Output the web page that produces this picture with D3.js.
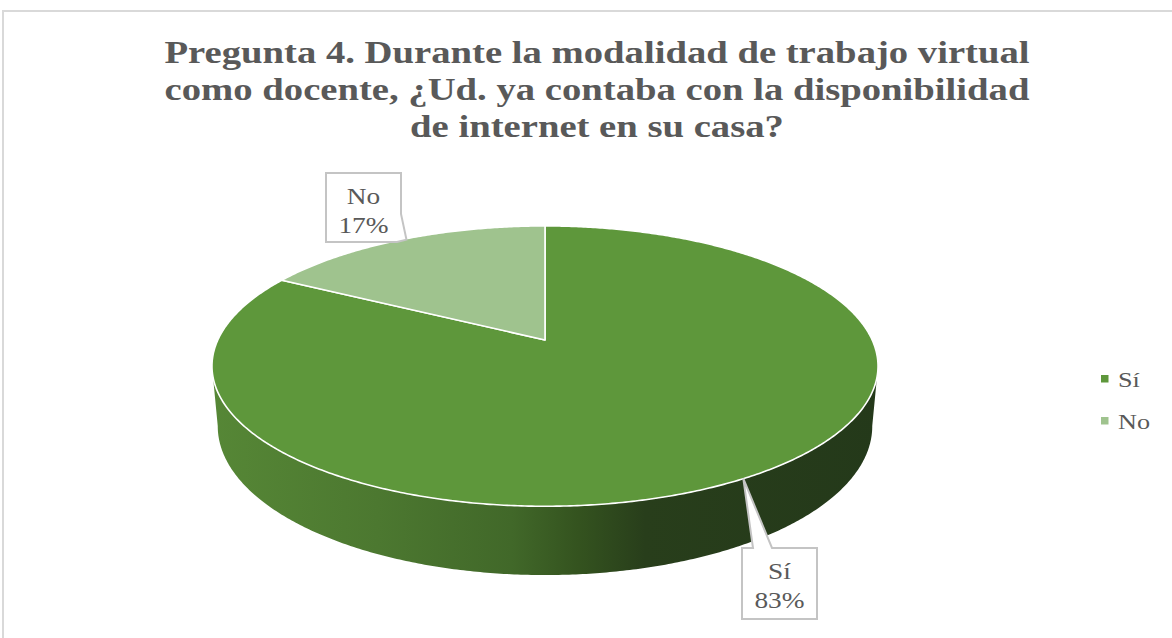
<!DOCTYPE html>
<html lang="es">
<head>
  <meta charset="UTF-8">
  <title>Pregunta 4</title>
  <script src="https://d3js.org/d3.v7.min.js"></script>
  <style>
    body { margin: 0; background: #fff; }
    svg { display: block; }
  </style>
</head>
<body>
<div class="canvas"></div>
<script>
  // datos
  const categories = ['Sí', 'No']
  const values = [83, 17]
  const pctLabels = ['83%', '17%']
  const colors = ['#5e973b', '#9fc38e']
  const titleLines = [
    'Pregunta 4. Durante la modalidad de trabajo virtual',
    'como docente, ¿Ud. ya contaba con la disponibilidad',
    'de internet en su casa?'
  ]

  const W = 1172, H = 638
  const svg = d3.select('.canvas')
    .append('svg')
    .attr('width', W)
    .attr('height', H)

  // borde del área del gráfico
  svg.append('rect')
    .attr('x', 3).attr('y', 11)
    .attr('width', W + 20).attr('height', H + 20)
    .attr('fill', '#fff')
    .attr('stroke', '#d9d9d9')
    .attr('stroke-width', 2)

  const textColor = '#595959'
  const stretch = 1.19 // el texto del original sale ensanchado

  function addText(parent, str, x, y, size, weight) {
    parent.append('text')
      .attr('transform', `translate(${x},${y}) scale(${stretch},1)`)
      .attr('text-anchor', 'middle')
      .attr('font-family', '"Liberation Serif", "Times New Roman", serif')
      .attr('font-size', size)
      .attr('font-weight', weight || 'normal')
      .attr('fill', textColor)
      .text(str)
  }

  // título
  const titleG = svg.append('g')
  titleLines.forEach((t, i) => addText(titleG, t, 597, 63 + i * 37, 32.5, 'bold'))

  // proyección 3D con perspectiva (pastel inclinado)
  const cx = 545, cy = 340
  const sinP = 0.4135, cosP = 0.9105
  const D = 4.89, F = 1600, depth = 0.2014

  function proj(a, y) {
    const X = Math.sin(a), Z = Math.cos(a)
    const den = D + Z * cosP - y * sinP
    return [cx + F * X / den, cy - F * (Z * sinP + y * cosP) / den]
  }

  const pie = d3.pie().sort(null).value(d => d)
  const arcs = pie(values)

  const line = d3.line()
  const step = Math.PI / 180 / 2

  function rim(a0, a1, y) {
    const pts = []
    const n = Math.max(2, Math.ceil(Math.abs(a1 - a0) / step))
    for (let i = 0; i <= n; i++) pts.push(proj(a0 + (a1 - a0) * i / n, y))
    return pts
  }

  // bordes visibles (silueta) de cada cara
  function extremes(y) {
    let minA = 0, maxA = 0, minX = Infinity, maxX = -Infinity
    for (let a = 0; a < 2 * Math.PI; a += step / 4) {
      const x = proj(a, y)[0]
      if (x < minX) { minX = x; minA = a }
      if (x > maxX) { maxX = x; maxA = a }
    }
    return [maxA, minA]
  }
  const [rTop, lTop] = extremes(0)
  const [rBot, lBot] = extremes(-depth)

  // degradado del lateral
  const defs = svg.append('defs')
  const grad = defs.append('linearGradient')
    .attr('id', 'sideGrad')
    .attr('gradientUnits', 'userSpaceOnUse')
    .attr('x1', 211).attr('x2', 879).attr('y1', 0).attr('y2', 0)
  const stops = [[0, '#568736'], [0.25, '#4c7830'], [0.45, '#416829'], [0.55, '#34531f'], [0.65, '#283e1b'], [1, '#24391a']]
  stops.forEach(s => grad.append('stop').attr('offset', s[0]).attr('stop-color', s[1]))

  const g = svg.append('g')

  // laterales
  arcs.forEach(d => {
    const a0 = Math.max(d.startAngle, rTop)
    const a1 = Math.min(d.endAngle, lTop)
    if (a1 <= a0) return
    const b0 = Math.max(d.startAngle, rBot)
    const b1 = Math.min(d.endAngle, lBot)
    const pts = rim(a0, a1, 0).concat(rim(b1, b0, -depth))
    g.append('path')
      .attr('d', line(pts) + 'Z')
      .attr('fill', 'url(#sideGrad)')
  })

  // caras superiores
  g.selectAll('path.top')
    .data(arcs)
    .enter()
    .append('path')
    .attr('class', 'top')
    .attr('d', d => line([[cx, cy]].concat(rim(d.startAngle, d.endAngle, 0))) + 'Z')
    .attr('fill', (d, i) => colors[i])
    .attr('stroke', '#fff')
    .attr('stroke-width', 1.6)
    .attr('stroke-linejoin', 'round')

  // etiquetas tipo globo
  const boxes = [
    { x: 742, y: 548, w: 75, h: 71, side: 'top', base: [753, 772] },
    { x: 326, y: 173, w: 75, h: 69, side: 'right', base: [214, 397] }
  ]
  arcs.forEach((d, i) => {
    const mid = (d.startAngle + d.endAngle) / 2
    const tip = proj(mid, 0)
    const b = boxes[i]
    let p
    if (b.side === 'top') {
      p = `M${b.x},${b.y}H${b.base[0]}L${tip[0]},${tip[1]}L${b.base[1]},${b.y}H${b.x + b.w}V${b.y + b.h}H${b.x}Z`
    } else {
      p = `M${b.x},${b.y}H${b.x + b.w}V${b.base[0]}L${tip[0] + 5},${tip[1]}L${b.base[1]},${b.y + b.h}H${b.x}Z`
    }
    svg.append('path')
      .attr('d', p)
      .attr('fill', '#fff')
      .attr('stroke', '#c4c4c4')
      .attr('stroke-width', 2)
      .attr('stroke-linejoin', 'miter')
    const mx = b.x + b.w / 2
    addText(svg, categories[i], mx, b.y + 31, 23)
    addText(svg, pctLabels[i], mx, b.y + 60, 23)
  })

  // leyenda
  const legend = svg.append('g')
  categories.forEach((c, i) => {
    const y = 379 + i * 42
    legend.append('rect')
      .attr('x', 1101).attr('y', y - 4)
      .attr('width', 7.5).attr('height', 7.5)
      .attr('fill', colors[i])
    legend.append('text')
      .attr('transform', `translate(1118,${y + 8}) scale(${stretch},1)`)
      .attr('font-family', '"Liberation Serif", "Times New Roman", serif')
      .attr('font-size', 22)
      .attr('fill', textColor)
      .text(c)
  })
</script>
</body>
</html>
